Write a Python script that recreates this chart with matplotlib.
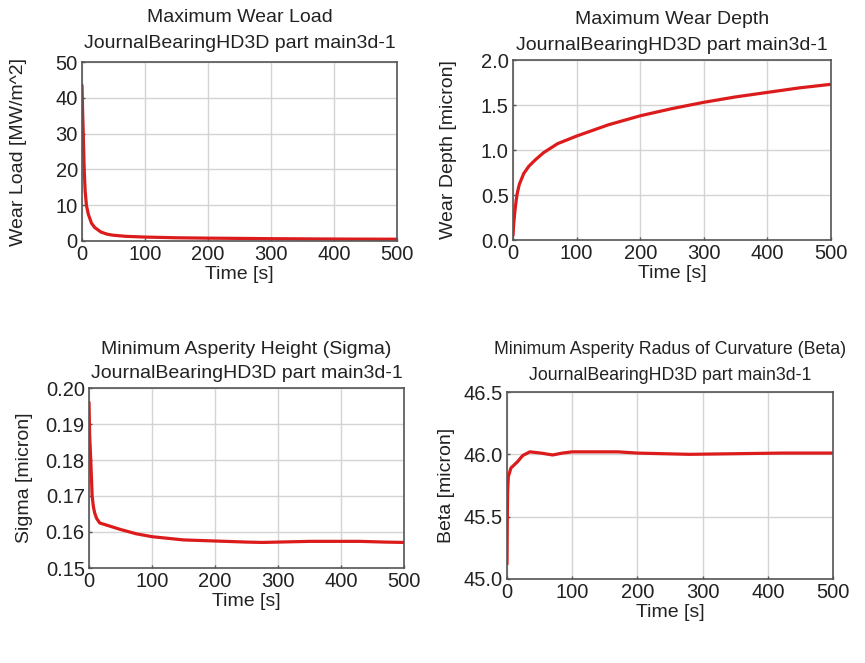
import matplotlib
matplotlib.use("Agg")
import matplotlib.pyplot as plt
import numpy as np

plt.rcParams['font.family'] = ['Liberation Sans', 'DejaVu Sans']

subtitle = "JournalBearingHD3D part main3d-1"

load_t = [0, 1, 2, 3.5, 5, 7, 10, 15, 20, 30, 40, 50, 70, 100, 150, 200, 300, 400, 500]
load_v = [43.5, 36, 30, 20, 14, 10, 7.5, 5, 3.8, 2.5, 1.9, 1.6, 1.3, 1.1, 0.9, 0.8, 0.65, 0.55, 0.5]

depth_t = [0, 1, 3, 5, 7, 10, 17, 25, 35, 48, 70, 100, 150, 200, 250, 300, 350, 400, 450, 500]
depth_v = [0.05, 0.17, 0.32, 0.44, 0.53, 0.62, 0.74, 0.82, 0.89, 0.97, 1.07, 1.155, 1.28, 1.38, 1.46, 1.53, 1.59, 1.64, 1.69, 1.73]

sigma_t = [0, 1, 3, 5, 7, 9, 12, 17, 30, 50, 75, 100, 150, 200, 250, 275, 300, 350, 430, 470, 500]
sigma_v = [0.196, 0.187, 0.179, 0.170, 0.167, 0.1653, 0.1638, 0.1625, 0.1618, 0.1607, 0.1595, 0.1587, 0.1578, 0.1575, 0.1572, 0.1571, 0.1572, 0.1574, 0.1574, 0.1572, 0.1571]

beta_t = [0, 0.5, 1, 2, 6, 10, 16, 24, 35, 52, 70, 85, 100, 130, 170, 200, 280, 350, 420, 500]
beta_v = [45.12, 45.5, 45.7, 45.82, 45.89, 45.91, 45.94, 45.99, 46.02, 46.01, 45.995, 46.01, 46.02, 46.02, 46.02, 46.01, 46.0, 46.005, 46.01, 46.01]

W, H = 865, 663

panels = [
    dict(t=load_t, v=load_v, title="Maximum Wear Load", ylabel="Wear Load [MW/m^2]",
         ylim=(0, 50), yticks=[0, 10, 20, 30, 40, 50], fmt="{:.0f}",
         box=(82, 62, 397, 241), ylab_x=27, ty=(18, 44), tfs=14),
    dict(t=depth_t, v=depth_v, title="Maximum Wear Depth", ylabel="Wear Depth [micron]",
         ylim=(0, 2.0), yticks=[0, 0.5, 1.0, 1.5, 2.0], fmt="{:.1f}",
         box=(513, 60, 831, 240), ylab_x=457, ty=(19, 46), tfs=14),
    dict(t=sigma_t, v=sigma_v, title="Minimum Asperity Height (Sigma)", ylabel="Sigma [micron]",
         ylim=(0.15, 0.20), yticks=[0.15, 0.16, 0.17, 0.18, 0.19, 0.20], fmt="{:.2f}",
         box=(89, 388, 404, 568), ylab_x=33, ty=(349, 374), tfs=14),
    dict(t=beta_t, v=beta_v, title="Minimum Asperity Radus of Curvature (Beta)", ylabel="Beta [micron]",
         ylim=(45.0, 46.5), yticks=[45.0, 45.5, 46.0, 46.5], fmt="{:.1f}",
         box=(507, 392, 833, 579), ylab_x=455, ty=(349, 375), tfs=12.8),
]

fig = plt.figure(figsize=(W / 100, H / 100), dpi=100)
for p in panels:
    x0, y0, x1, y1 = p["box"]
    ax = fig.add_axes([x0 / W, 1 - y1 / H, (x1 - x0) / W, (y1 - y0) / H])
    ax.plot(p["t"], p["v"], color="#dc1c1c", lw=2.3, solid_joinstyle="round", solid_capstyle="round")
    ax.set_xlim(0, 500)
    ax.set_ylim(*p["ylim"])
    ax.set_xticks([0, 100, 200, 300, 400, 500])
    ax.set_yticks(p["yticks"])
    ax.set_yticklabels([p["fmt"].format(y) for y in p["yticks"]])
    ax.grid(True, color="#d4d4d4", lw=1.0)
    ax.set_axisbelow(True)
    ax.tick_params(direction="in", length=2.5, width=1.0, color="#555555",
                   labelsize=14.5, pad=3, labelcolor="#222222")
    for s in ax.spines.values():
        s.set_color("#555555")
        s.set_linewidth(1.2)
    ax.set_xlabel("Time [s]", fontsize=14, labelpad=1, color="#222222")
    ax.set_ylabel(p["ylabel"], fontsize=14, color="#222222")
    ax.yaxis.set_label_coords((p["ylab_x"] - x0) / (x1 - x0), 0.5)
    cx = (x0 + x1) / 2 / W
    fig.text(cx, 1 - p["ty"][0] / H, p["title"], ha="center", va="center", fontsize=p["tfs"], color="#222222")
    fig.text(cx, 1 - p["ty"][1] / H, subtitle, ha="center", va="center", fontsize=p["tfs"], color="#222222")

fig.savefig("out.png", dpi=100)
